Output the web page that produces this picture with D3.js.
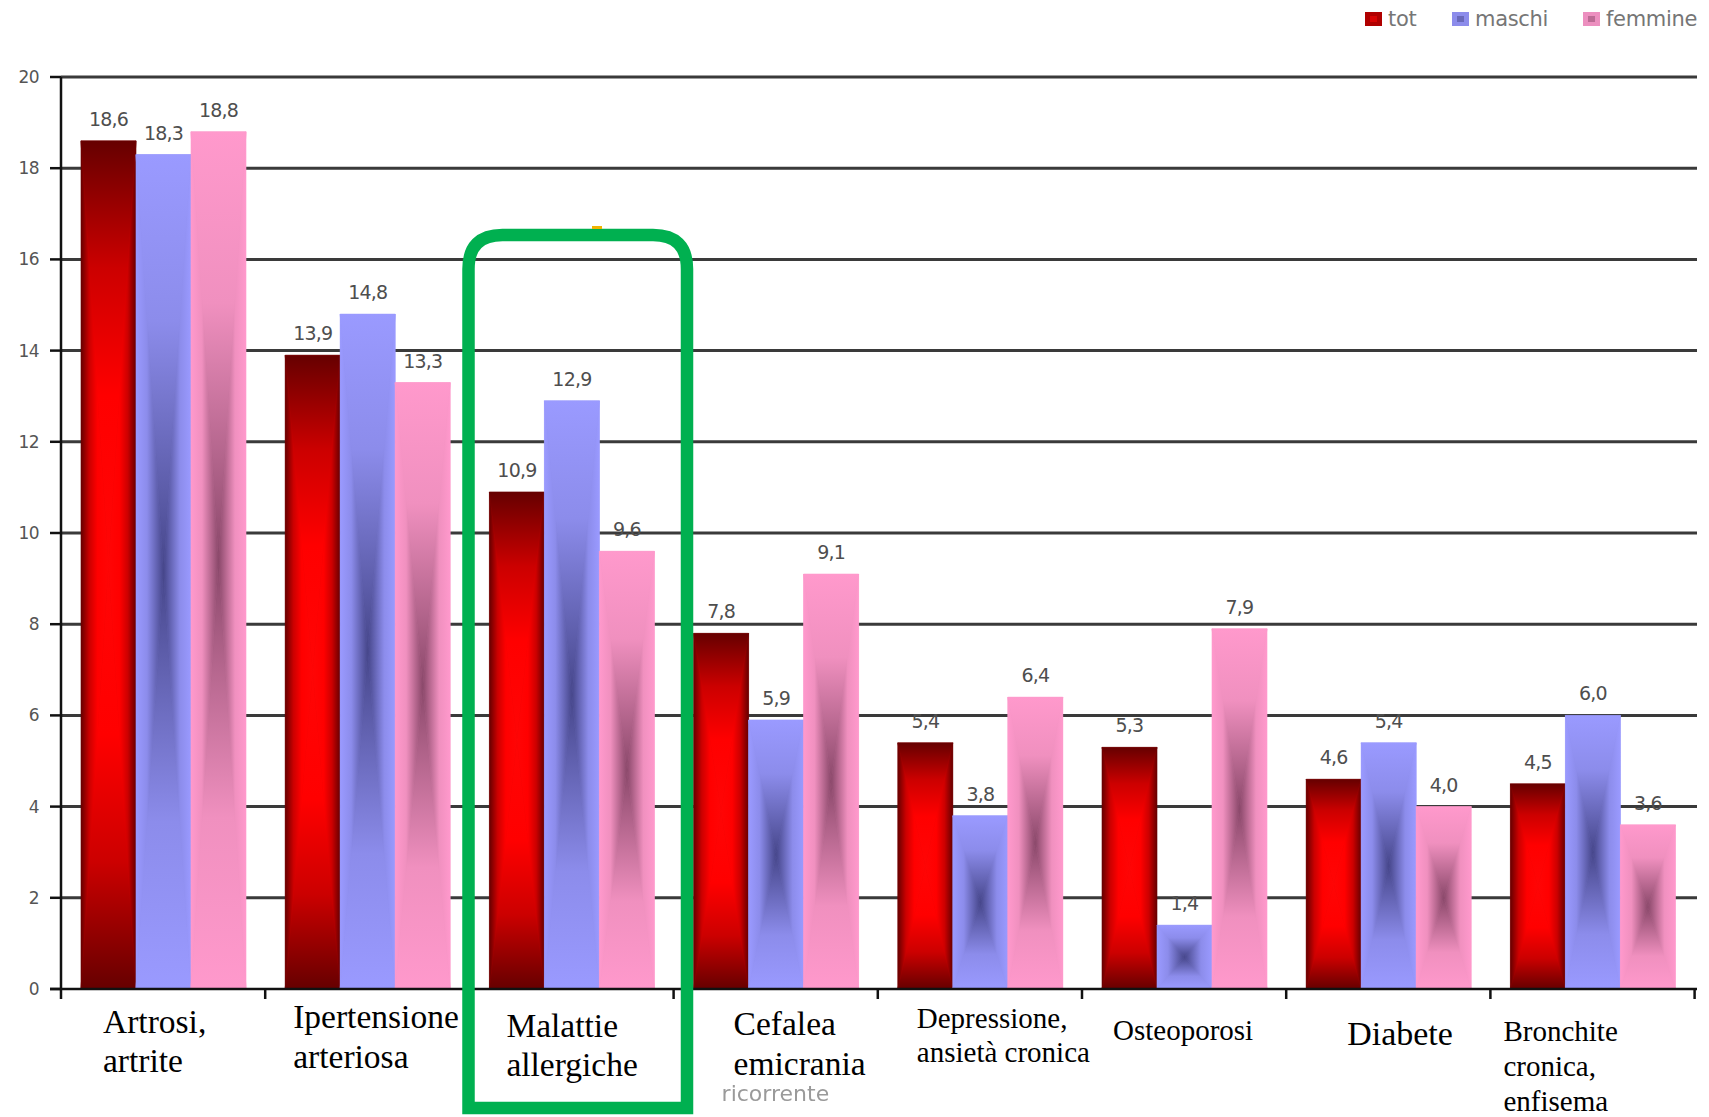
<!DOCTYPE html>
<html>
<head>
<meta charset="utf-8">
<script src="https://cdn.jsdelivr.net/npm/d3@7/dist/d3.min.js"></script>
<style>
  body { margin: 0; background: #fff; }
  svg { display: block; }
</style>
</head>
<body>
<svg width="1709" height="1117"></svg>
<script>
const categories = [
  ["Artrosi,", "artrite"],
  ["Ipertensione", "arteriosa"],
  ["Malattie", "allergiche"],
  ["Cefalea", "emicrania"],
  ["Depressione,", "ansietà cronica"],
  ["Osteoporosi"],
  ["Diabete"],
  ["Bronchite", "cronica,", "enfisema"]
];
const series = ["tot", "maschi", "femmine"];
const tot     = [18.6, 13.9, 10.9, 7.8, 5.4, 5.3, 4.6, 4.5];
const maschi  = [18.3, 14.8, 12.9, 5.9, 3.8, 1.4, 5.4, 6.0];
const femmine = [18.8, 13.3, 9.6, 9.1, 6.4, 7.9, 4.0, 3.6];
const yTicks = [0, 2, 4, 6, 8, 10, 12, 14, 16, 18, 20];

// label layout per category: x offset from band start, first baseline, line gap, font size
const labelLayout = [
  { dx: 42, y: 1033, gap: 39, size: 33.5 },
  { dx: 28, y: 1028, gap: 40, size: 33.5 },
  { dx: 37, y: 1037, gap: 39, size: 33.5 },
  { dx: 60, y: 1035, gap: 40, size: 33.5 },
  { dx: 39, y: 1028, gap: 34, size: 29 },
  { dx: 31, y: 1040, gap: 35, size: 29 },
  { dx: 61, y: 1045, gap: 35, size: 34 },
  { dx: 13, y: 1041, gap: 35, size: 29 }
];

const svg = d3.select("svg");
const defs = svg.append("defs");

const x = d3.scaleBand()
  .domain(d3.range(categories.length))
  .range([61, 1694.6])
  .padding(0);

const xInner = d3.scaleBand()
  .domain(series)
  .range([20, 185]);

const y = d3.scaleLinear()
  .domain([0, 20])
  .range([989, 77]);

// rectangle "path" gradients: edge colour -> centre colour
const palette = {
  tot:     [[0, "#660000"], [0.3, "#cc0000"], [0.6, "#ff0000"], [1, "#ff0505"]],
  maschi:  [[0, "#9a9aff"], [0.4, "#8c8ceb"], [1, "#46468a"]],
  femmine: [[0, "#ff99cc"], [0.4, "#f090bf"], [1, "#8a486a"]]
};
const legendFill = { tot: "#b00000", maschi: "#8c8ceb", femmine: "#ec8fbf" };
const dirs = {
  top:    { x1: 0, y1: 0, x2: 0, y2: 1 },
  bottom: { x1: 0, y1: 1, x2: 0, y2: 0 },
  left:   { x1: 0, y1: 0, x2: 1, y2: 0 },
  right:  { x1: 1, y1: 0, x2: 0, y2: 0 }
};
series.forEach(s => {
  Object.entries(dirs).forEach(([k, d]) => {
    const g = defs.append("linearGradient")
      .attr("id", `g-${s}-${k}`)
      .attr("x1", d.x1).attr("y1", d.y1)
      .attr("x2", d.x2).attr("y2", d.y2);
    palette[s].forEach(([o, c]) => g.append("stop").attr("offset", o).attr("stop-color", c));
  });
});

defs.append("filter")
  .attr("id", "soft")
  .append("feGaussianBlur")
  .attr("stdDeviation", 0.7);

// gridlines
svg.append("g")
  .selectAll("line")
  .data(yTicks.filter(t => t > 0))
  .join("line")
  .attr("x1", 61)
  .attr("x2", 1697)
  .attr("y1", d => y(d))
  .attr("y2", d => y(d))
  .attr("stroke", "#3a3a3a")
  .attr("stroke-width", 3);

// bars
const rows = [];
categories.forEach((c, i) => {
  [tot, maschi, femmine].forEach((vals, j) => {
    rows.push({ i, s: series[j], v: vals[i] });
  });
});

const barG = svg.append("g");
rows.forEach(d => {
  const x0 = x(d.i) + xInner(d.s);
  const x1 = x0 + xInner.bandwidth();
  const y0 = y(d.v);
  const y1 = y(0);
  const cx = (x0 + x1) / 2;
  const cy = (y0 + y1) / 2;
  const g = barG.append("g");
  g.append("rect")
    .attr("x", x0).attr("y", y0)
    .attr("width", x1 - x0).attr("height", y1 - y0)
    .attr("fill", palette[d.s][1][1]);
  const polys = {
    top: [[x0, y0], [x1, y0], [cx, cy]],
    bottom: [[x0, y1], [x1, y1], [cx, cy]],
    left: [[x0, y0], [x0, y1], [cx, cy]],
    right: [[x1, y0], [x1, y1], [cx, cy]]
  };
  Object.entries(polys).forEach(([k, p]) => {
    g.append("path")
      .attr("d", "M" + p.map(q => q.join(",")).join("L") + "Z")
      .attr("fill", `url(#g-${d.s}-${k})`)
      .attr("stroke", `url(#g-${d.s}-${k})`)
      .attr("stroke-width", 0.6);
  });
});

// value labels
svg.append("g")
  .selectAll("text")
  .data(rows)
  .join("text")
  .attr("x", d => x(d.i) + xInner(d.s) + xInner.bandwidth() / 2)
  .attr("y", d => y(d.v) - 15)
  .attr("text-anchor", "middle")
  .attr("font-family", "DejaVu Sans, sans-serif")
  .attr("font-size", 19)
  .attr("letter-spacing", -0.8)
  .attr("fill", "#4e4e4e")
  .text(d => d3.format(".1f")(d.v).replace(".", ","));

// axes
svg.append("line")
  .attr("x1", 61).attr("x2", 61)
  .attr("y1", y(20)).attr("y2", y(0))
  .attr("stroke", "#111").attr("stroke-width", 2.5);
svg.append("line")
  .attr("x1", 50).attr("x2", 1697)
  .attr("y1", y(0)).attr("y2", y(0))
  .attr("stroke", "#111").attr("stroke-width", 2.5);

svg.append("g")
  .selectAll("line")
  .data(yTicks)
  .join("line")
  .attr("x1", 50).attr("x2", 61)
  .attr("y1", d => y(d)).attr("y2", d => y(d))
  .attr("stroke", "#111").attr("stroke-width", 2.5);

svg.append("g")
  .selectAll("text")
  .data(yTicks)
  .join("text")
  .attr("x", 39)
  .attr("y", d => y(d))
  .attr("dy", "0.35em")
  .attr("text-anchor", "end")
  .attr("font-family", "DejaVu Sans, sans-serif")
  .attr("font-size", 17)
  .attr("letter-spacing", -0.6)
  .attr("fill", "#555")
  .text(d => d);

svg.append("g")
  .selectAll("line")
  .data(d3.range(categories.length + 1))
  .join("line")
  .attr("x1", d => 61 + d * x.step())
  .attr("x2", d => 61 + d * x.step())
  .attr("y1", y(0))
  .attr("y2", y(0) + 10)
  .attr("stroke", "#111").attr("stroke-width", 2.5);

// category labels
const catG = svg.append("g");
categories.forEach((lines, i) => {
  const L = labelLayout[i];
  const t = catG.append("text")
    .attr("font-family", "Liberation Serif, Times New Roman, serif")
    .attr("font-size", L.size)
    .attr("fill", "#000");
  lines.forEach((ln, k) => {
    t.append("tspan")
      .attr("x", x(i) + L.dx)
      .attr("y", L.y + k * L.gap)
      .text(ln);
  });
});

// faint leftover word under "Cefalea emicrania"
svg.append("text")
  .attr("x", x(3) + 48)
  .attr("y", 1101)
  .attr("font-family", "DejaVu Sans, sans-serif")
  .attr("font-size", 22)
  .attr("fill", "#9a9a9a")
  .attr("filter", "url(#soft)")
  .text("ricorrente");

// legend
const legendPos = [1365, 1452, 1583];
const legend = svg.append("g")
  .selectAll("g")
  .data(series)
  .join("g")
  .attr("transform", (d, i) => `translate(${legendPos[i]}, 12)`);
legend.append("rect")
  .attr("width", 17).attr("height", 14)
  .attr("fill", d => legendFill[d]);
legend.append("rect")
  .attr("x", 5).attr("y", 4)
  .attr("width", 7).attr("height", 6)
  .attr("fill", d => palette[d][palette[d].length - 1][1])
  .attr("opacity", 0.5);
legend.append("text")
  .attr("x", 23)
  .attr("y", 7)
  .attr("dy", "0.35em")
  .attr("font-family", "DejaVu Sans, sans-serif")
  .attr("font-size", 21)
  .attr("letter-spacing", -0.3)
  .attr("fill", "#767676")
  .text(d => d);

// green highlight frame, rounded top corners
const fx0 = 468.5, fx1 = 687, fy0 = 235, fy1 = 1108, r = 34;
svg.append("path")
  .attr("d", `M${fx0},${fy1} L${fx0},${fy0 + r} Q${fx0},${fy0} ${fx0 + r},${fy0}
              L${fx1 - r},${fy0} Q${fx1},${fy0} ${fx1},${fy0 + r} L${fx1},${fy1} Z`)
  .attr("fill", "none")
  .attr("stroke", "#00b050")
  .attr("stroke-width", 12.5);
svg.append("rect")
  .attr("x", 592).attr("y", 226)
  .attr("width", 10).attr("height", 3)
  .attr("fill", "#f0b400");
</script>
</body>
</html>
